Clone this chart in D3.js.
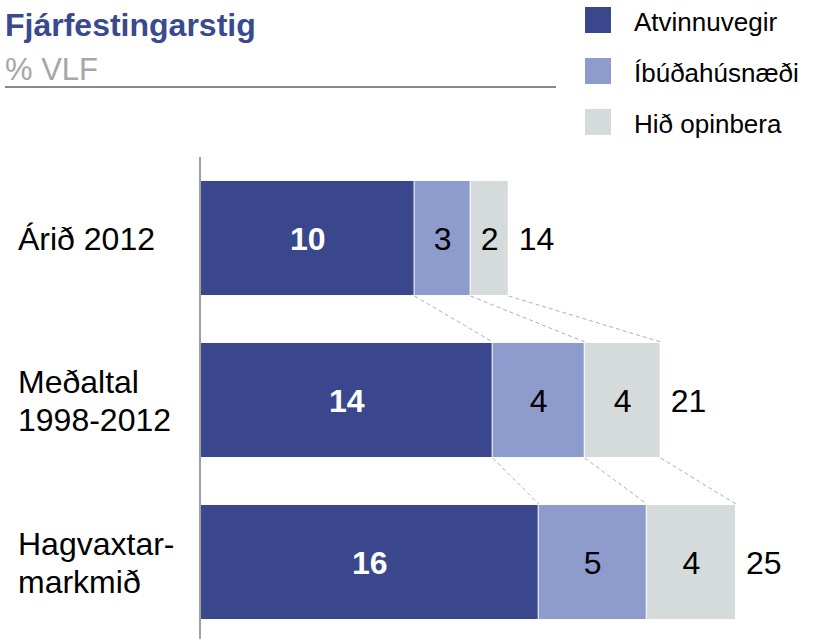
<!DOCTYPE html>
<html><head><meta charset="utf-8">
<script src="https://cdn.jsdelivr.net/npm/d3@7"></script>
<style>body{margin:0;background:#fff}svg{display:block}text{font-family:"Liberation Sans",Arial,sans-serif}</style>
</head><body>
<svg id="c" width="815" height="639"></svg>
<script>
const categories = [["Árið 2012"], ["Meðaltal", "1998-2012"], ["Hagvaxtar-", "markmið"]];
const seriesNames = ["Atvinnuvegir", "Íbúðahúsnæði", "Hið opinbera"];
const atvinnuvegir = [9.98, 13.63, 15.78];
const ibudahusnaedi = [2.62, 4.3, 5.05];
const hidOpinbera = [1.78, 3.55, 4.17];
const colors = ["#3a478c", "#8e9bcd", "#d5dbdb"];
const labelColors = ["#fff", "#000", "#000"];

const svg = d3.select("#c");
const series = [atvinnuvegir, ibudahusnaedi, hidOpinbera];
const x = d3.scaleLinear().domain([0, 25]).range([201, 736]);
const y = d3.scaleBand().domain(d3.range(categories.length)).range([157, 643]).paddingInner(0.296).paddingOuter(0.148);

const rows = categories.map((c, i) => {
  let acc = 0;
  const segs = series.map((s, k) => { const x0 = acc; acc += s[i]; return {k, x0, x1: acc, v: s[i]}; });
  return {i, segs, total: acc};
});

// title
svg.append("text").attr("x", 5).attr("y", 36).attr("font-size", 32).attr("font-weight", "bold").attr("fill", "#3a4a8f").text("Fjárfestingarstig");
svg.append("text").attr("x", 5).attr("y", 80).attr("font-size", 31).attr("fill", "#a6a6a6").text("% VLF");
svg.append("line").attr("x1", 5).attr("x2", 556).attr("y1", 87).attr("y2", 87).attr("stroke", "#888").attr("stroke-width", 2);

// legend
const lg = svg.append("g").selectAll("g").data(seriesNames).join("g").attr("transform", (d, i) => `translate(585,${7 + i * 51})`);
lg.append("rect").attr("width", 26).attr("height", 26).attr("fill", (d, i) => colors[i]);
lg.append("text").attr("x", 49).attr("y", 24).attr("font-size", 26).attr("fill", "#000").text(d => d);

// connectors
for (let i = 0; i < rows.length - 1; i++) {
  const a = rows[i], b = rows[i + 1];
  const ptsA = a.segs.slice(1).map(s => s.x0).concat([a.total]);
  const ptsB = b.segs.slice(1).map(s => s.x0).concat([b.total]);
  ptsA.forEach((v, j) => {
    svg.append("line").attr("x1", x(v)).attr("y1", y(i) + y.bandwidth() + 1).attr("x2", x(ptsB[j])).attr("y2", y(i + 1) - 1)
      .attr("stroke", "#b0b0b0").attr("stroke-width", 1).attr("stroke-dasharray", "4,3");
  });
}

// bars
const g = svg.append("g").selectAll("g").data(rows).join("g");
g.selectAll("rect").data(d => d.segs.map(s => ({...s, i: d.i}))).join("rect")
  .attr("x", d => x(d.x0)).attr("width", d => x(d.x1) - x(d.x0) - 1)
  .attr("y", d => y(d.i)).attr("height", y.bandwidth()).attr("fill", d => colors[d.k]);
g.selectAll("text.v").data(d => d.segs.map(s => ({...s, i: d.i}))).join("text").attr("class", "v")
  .attr("x", d => (x(d.x0) + x(d.x1)) / 2).attr("y", d => y(d.i) + y.bandwidth() / 2 + 12)
  .attr("text-anchor", "middle").attr("font-size", 32).attr("font-weight", d => d.k === 0 ? "bold" : "normal")
  .attr("fill", d => labelColors[d.k]).text(d => Math.round(d.v));
g.append("text").attr("x", d => x(d.total) + 10).attr("y", d => y(d.i) + y.bandwidth() / 2 + 12)
  .attr("font-size", 32).attr("fill", "#000").text(d => Math.round(d.total));

// category labels
g.append("text").attr("font-size", 32).attr("fill", "#000")
  .each(function(d) {
    const lines = categories[d.i];
    const t = d3.select(this);
    const mid = y(d.i) + y.bandwidth() / 2 + 12;
    lines.forEach((l, j) => t.append("tspan").attr("x", 18).attr("y", mid + (j - (lines.length - 1) / 2) * 38).text(l));
  });

// axis line
svg.append("line").attr("x1", 200).attr("x2", 200).attr("y1", 157).attr("y2", 639).attr("stroke", "#a0a0a0").attr("stroke-width", 2);
</script>
</body></html>
